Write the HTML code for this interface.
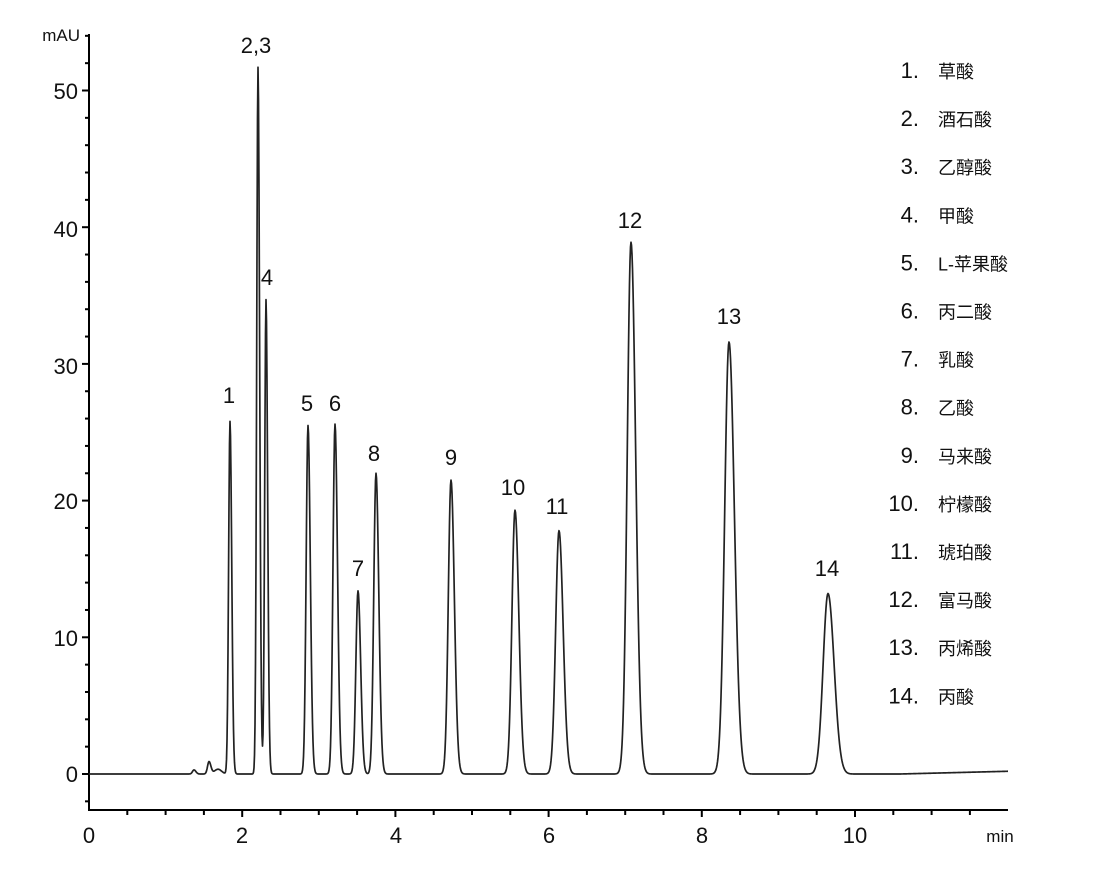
<!DOCTYPE html>
<html><head><meta charset="utf-8"><style>
html,body{margin:0;padding:0;background:#fff;width:1110px;height:876px;overflow:hidden}
svg{display:block}
text{font-family:"Liberation Sans","Noto Sans CJK SC",sans-serif;fill:#111}
.cj{font-family:"Liberation Sans","Noto Sans CJK SC",sans-serif;font-size:18px}
</style></head><body>
<svg id="s" width="1110" height="876" viewBox="0 0 1110 876" xmlns="http://www.w3.org/2000/svg">
<g stroke="#000" stroke-width="2" fill="none">
<line x1="89" y1="34" x2="89" y2="811"/>
<line x1="88" y1="810" x2="1008" y2="810"/>
</g>
<g id="ticks" stroke="#000" stroke-width="2"></g>
<g font-size="22">
<text x="78" y="782" text-anchor="end">0</text>
<text x="78" y="646" text-anchor="end">10</text>
<text x="78" y="509" text-anchor="end">20</text>
<text x="78" y="374" text-anchor="end">30</text>
<text x="78" y="237" text-anchor="end">40</text>
<text x="78" y="99" text-anchor="end">50</text>
<text x="80" y="41" text-anchor="end" font-size="17">mAU</text>
<text x="89" y="843" text-anchor="middle">0</text>
<text x="242" y="843" text-anchor="middle">2</text>
<text x="396" y="843" text-anchor="middle">4</text>
<text x="549" y="843" text-anchor="middle">6</text>
<text x="702" y="843" text-anchor="middle">8</text>
<text x="855" y="843" text-anchor="middle">10</text>
<text x="1000" y="842" text-anchor="middle" font-size="17">min</text>
</g>
<g font-size="22" text-anchor="middle">
<text x="229" y="403">1</text>
<text x="256" y="53">2,3</text>
<text x="267" y="285">4</text>
<text x="307" y="411">5</text>
<text x="335" y="411">6</text>
<text x="358" y="576">7</text>
<text x="374" y="461">8</text>
<text x="451" y="465">9</text>
<text x="513" y="495">10</text>
<text x="557" y="514">11</text>
<text x="630" y="228">12</text>
<text x="729" y="324">13</text>
<text x="827" y="576">14</text>
</g>
<g id="leg"></g>
<path id="trace" fill="none" stroke="#222" stroke-width="1.7" stroke-linejoin="round"/>
</svg>
<script>
(function(){
var ns="http://www.w3.org/2000/svg",t=document.getElementById('ticks');
function L(x1,y1,x2,y2){var l=document.createElementNS(ns,'line');l.setAttribute('x1',x1);l.setAttribute('y1',y1);l.setAttribute('x2',x2);l.setAttribute('y2',y2);t.appendChild(l);}
function Y(v){return 774-13.67*v;}
function X(m){return 89+76.6*m;}
for(var v=-2;v<=54;v+=2){ L(89,Y(v),v%10==0?82:85,Y(v));}
for(var m=0.5;m<=12;m+=0.5){var x=X(m); if(x>1008)break; L(x,810,x,m%2==0?817:815);}
var leg=document.getElementById('leg');
var names=["草酸","酒石酸","乙醇酸","甲酸","L-苹果酸","丙二酸","乳酸","乙酸","马来酸","柠檬酸","琥珀酸","富马酸","丙烯酸","丙酸"];
for(var i=0;i<14;i++){var y=78+i*48.1;
var a=document.createElementNS(ns,'text');a.setAttribute('x',919);a.setAttribute('y',y);a.setAttribute('text-anchor','end');a.setAttribute('font-size','22');a.textContent=(i+1)+".";leg.appendChild(a);
var b=document.createElementNS(ns,'text');b.setAttribute('x',938);b.setAttribute('y',y);b.setAttribute('class','cj');b.textContent=names[i];leg.appendChild(b);}
var pk=[[230,25.8],[258,51.7],[266,34.7],[308,25.5],[335,25.6],[358,13.4],[376,22],[451,21.5],[515,19.3],[559,17.8],[631,38.9],[729,31.6],[828,13.2],[209,0.9],[194,0.3]];
var d="";
for(var x=89;x<=1008;x+=0.5){var v=0;
 for(var j=0;j<pk.length;j++){var c=pk[j][0],h=pk[j][1];var m=(c-89)/76.6;var s=0.55+0.45*m;if(j>=13)s=1.5;if(j==1||j==2)s=1.3;
  var dx=x-c;var ss=dx>0?s*1.25:s;v+=h*Math.exp(-dx*dx/(2*ss*ss));}
 v+=0.35*Math.exp(-Math.pow((x-218)/5,2));
 if(x>900)v+=(x-900)/108*0.2;
 d+=(d?"L":"M")+x.toFixed(1)+","+Y(v).toFixed(2);}
document.getElementById('trace').setAttribute('d',d);
})();
</script>
</body></html>
